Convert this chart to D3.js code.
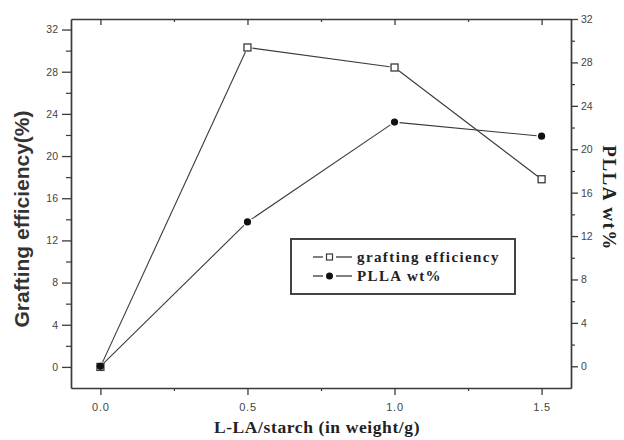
<!DOCTYPE html>
<html>
<head>
<meta charset="utf-8">
<script src="https://cdn.jsdelivr.net/npm/d3@7"></script>
<style>
  html, body { margin: 0; padding: 0; background: #fff; }
  svg { display: block; }
  .tick text { font-family: "Liberation Sans", Arial, sans-serif; fill: #444; }
  .y-axis .tick text { font-size: 10.5px; }
  .x-axis .tick text { font-size: 11px; letter-spacing: 0.8px; }
</style>
</head>
<body>
<svg id="chart" width="624" height="440"></svg>
<script>
// L-LA to starch feed ratio
const ratios = [0.0, 0.5, 1.0, 1.5];
// Grafting efficiency (%), left axis
const graftingEfficiency = [0, 30.3, 28.4, 17.8];
// PLLA content (wt%), right axis
const pllaWt = [0, 13.3, 22.5, 21.2];

const xTicks = [0.0, 0.5, 1.0, 1.5];
const xMinorTicks = [0.25, 0.75, 1.25];
const yTicks = [0, 4, 8, 12, 16, 20, 24, 28, 32];
const yMinorTicks = [2, 6, 10, 14, 18, 22, 26, 30];

const svg = d3.select("#chart");
const frame = { left: 71, right: 571, top: 19, bottom: 388 };
const ink = "#3a3a3a";

const x = d3.scaleLinear().domain([-0.1, 1.6]).range([frame.left, frame.right]);
const yL = d3.scaleLinear().domain([-2, 33]).range([frame.bottom, frame.top]);
const yR = d3.scaleLinear().domain([-2, 32]).range([frame.bottom, frame.top]);

function styleAxis(g) {
  g.select(".domain").attr("stroke", ink).attr("stroke-width", 1.7);
  g.selectAll(".tick line").attr("stroke", ink).attr("stroke-width", 1.3);
}
function minorAxis(g) {
  g.select(".domain").remove();
  g.selectAll(".tick line").attr("stroke", ink).attr("stroke-width", 1.2);
  g.selectAll(".tick text").remove();
}

// Bottom axis with labels, outward ticks
svg.append("g").attr("class", "x-axis").attr("transform", `translate(0,${frame.bottom})`)
  .call(d3.axisBottom(x).tickValues(xTicks).tickSize(7).tickSizeOuter(0).tickPadding(8)
    .tickFormat(d3.format(".1f")))
  .call(styleAxis);
svg.append("g").attr("transform", `translate(0,${frame.bottom})`)
  .call(d3.axisBottom(x).tickValues(xMinorTicks).tickSize(3))
  .call(minorAxis);

// Top edge with inward ticks
svg.append("g").attr("transform", `translate(0,${frame.top})`)
  .call(d3.axisBottom(x).tickValues(xTicks).tickSize(6).tickSizeOuter(0).tickFormat(""))
  .call(styleAxis);
svg.append("g").attr("transform", `translate(0,${frame.top})`)
  .call(d3.axisBottom(x).tickValues(xMinorTicks).tickSize(3))
  .call(minorAxis);

// Left axis
svg.append("g").attr("class", "y-axis").attr("transform", `translate(${frame.left},0)`)
  .call(d3.axisLeft(yL).tickValues(yTicks).tickSize(9).tickSizeOuter(0).tickPadding(4))
  .call(styleAxis);
svg.append("g").attr("transform", `translate(${frame.left},0)`)
  .call(d3.axisLeft(yL).tickValues(yMinorTicks).tickSize(5))
  .call(minorAxis);

// Right axis
svg.append("g").attr("class", "y-axis").attr("transform", `translate(${frame.right},0)`)
  .call(d3.axisRight(yR).tickValues(yTicks).tickSize(7).tickSizeOuter(0).tickPadding(3))
  .call(styleAxis);
svg.append("g").attr("transform", `translate(${frame.right},0)`)
  .call(d3.axisRight(yR).tickValues(yMinorTicks).tickSize(4))
  .call(minorAxis);

// Connecting segments stop short of each marker
function drawSeries(values, yScale) {
  const pts = ratios.map((r, i) => [x(r), yScale(values[i])]);
  const gap = 5;
  const segs = d3.pairs(pts).map(([a, b]) => {
    const dx = b[0] - a[0], dy = b[1] - a[1];
    const len = Math.hypot(dx, dy);
    const ux = dx / len, uy = dy / len;
    return [a[0] + ux * gap, a[1] + uy * gap, b[0] - ux * gap, b[1] - uy * gap];
  });
  svg.append("g").selectAll("line").data(segs).join("line")
    .attr("x1", d => d[0]).attr("y1", d => d[1])
    .attr("x2", d => d[2]).attr("y2", d => d[3])
    .attr("stroke", ink).attr("stroke-width", 1.1);
  return pts;
}

const gePts = drawSeries(graftingEfficiency, yL);
const plPts = drawSeries(pllaWt, yR);

svg.append("g").selectAll("rect").data(gePts).join("rect")
  .attr("x", d => d[0] - 3.5).attr("y", d => d[1] - 3.5)
  .attr("width", 7).attr("height", 7)
  .attr("fill", "#fff").attr("stroke", ink).attr("stroke-width", 1.3);
svg.append("g").selectAll("circle").data(plPts).join("circle")
  .attr("cx", d => d[0]).attr("cy", d => d[1]).attr("r", 3.6)
  .attr("fill", "#111");

// Axis titles
svg.append("text")
  .attr("transform", `translate(29,219) rotate(-90)`)
  .attr("text-anchor", "middle")
  .style("font-family", "'Liberation Sans', Arial, sans-serif")
  .style("font-weight", "bold").style("font-size", "21px").style("fill", "#333")
  .text("Grafting efficiency(%)");

svg.append("text")
  .attr("x", 317).attr("y", 433)
  .attr("text-anchor", "middle")
  .style("font-family", "'Liberation Serif', 'Times New Roman', serif")
  .style("font-weight", "bold").style("font-size", "17.5px").style("fill", "#222")
  .style("letter-spacing", "0.6px")
  .text("L-LA/starch (in weight/g)");

svg.append("text")
  .attr("transform", `translate(603,198) rotate(90)`)
  .attr("text-anchor", "middle")
  .style("font-family", "'Liberation Serif', 'Times New Roman', serif")
  .style("font-weight", "bold").style("font-size", "19px").style("fill", "#222")
  .style("letter-spacing", "1.5px")
  .text("PLLA wt%");

// Legend
const legend = svg.append("g");
legend.append("rect")
  .attr("x", 291).attr("y", 239).attr("width", 224).attr("height", 55)
  .attr("fill", "#fff").attr("stroke", ink).attr("stroke-width", 1.9);

const legendItems = [
  { label: "grafting efficiency", kind: "square", y: 257 },
  { label: "PLLA wt%", kind: "circle", y: 276 }
];
legendItems.forEach(item => {
  const g = legend.append("g");
  g.append("line").attr("x1", 313).attr("x2", 323).attr("y1", item.y).attr("y2", item.y)
    .attr("stroke", ink).attr("stroke-width", 1.3);
  g.append("line").attr("x1", 336).attr("x2", 352).attr("y1", item.y).attr("y2", item.y)
    .attr("stroke", ink).attr("stroke-width", 1.3);
  if (item.kind === "square") {
    g.append("rect").attr("x", 326.5).attr("y", item.y - 3).attr("width", 6).attr("height", 6)
      .attr("fill", "#fff").attr("stroke", ink).attr("stroke-width", 1.2);
  } else {
    g.append("circle").attr("cx", 329.5).attr("cy", item.y).attr("r", 3.5).attr("fill", "#111");
  }
  g.append("text").attr("x", 357).attr("y", item.y + 4.5)
    .style("font-family", "'Liberation Serif', 'Times New Roman', serif")
    .style("font-weight", "bold").style("font-size", "15px").style("fill", "#222")
    .style("letter-spacing", "1.4px")
    .text(item.label);
});
</script>
</body>
</html>
